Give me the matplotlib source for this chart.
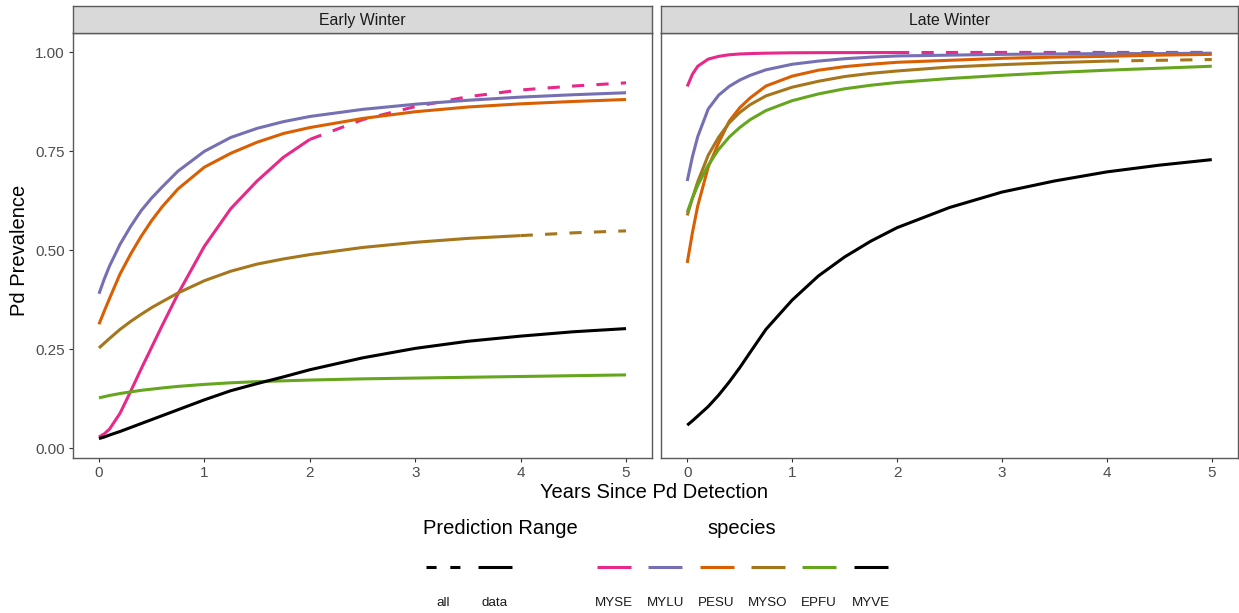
import matplotlib
matplotlib.use("Agg")
import matplotlib.pyplot as plt
from matplotlib.lines import Line2D

plt.rcParams['font.family'] = ['Liberation Sans', 'DejaVu Sans']

# ---------------- data ----------------
years = [0, 0.05, 0.1, 0.2, 0.3, 0.4, 0.5, 0.6, 0.75, 1, 1.25, 1.5, 1.75,
         2, 2.5, 3, 3.5, 4, 4.5, 5]
species = ["MYSE", "MYLU", "PESU", "MYSO", "EPFU", "MYVE"]
colors = ["#E7298A", "#7570B3", "#D95F02", "#A6761D", "#66A61E", "#000000"]
seasons = ["Early Winter", "Late Winter"]
# last year covered by data (beyond it the prediction is dashed)
data_limit = [2, 5, 5, 4, 5, 5]

early_MYSE = [0.028, 0.036, 0.048, 0.088, 0.143, 0.2, 0.255, 0.31, 0.39, 0.51, 0.605,
              0.675, 0.735, 0.78, 0.83, 0.863, 0.888, 0.905, 0.915, 0.923]
early_MYLU = [0.39, 0.427, 0.46, 0.515, 0.56, 0.60, 0.632, 0.66, 0.70, 0.75, 0.785,
              0.808, 0.825, 0.838, 0.856, 0.869, 0.879, 0.887, 0.893, 0.898]
early_PESU = [0.313, 0.346, 0.378, 0.44, 0.49, 0.535, 0.575, 0.61, 0.655, 0.71, 0.745,
              0.773, 0.795, 0.81, 0.833, 0.85, 0.862, 0.87, 0.876, 0.881]
early_MYSO = [0.253, 0.265, 0.277, 0.30, 0.32, 0.338, 0.355, 0.37, 0.392, 0.423, 0.447,
              0.465, 0.478, 0.489, 0.507, 0.52, 0.53, 0.537, 0.544, 0.549]
early_EPFU = [0.127, 0.13, 0.133, 0.138, 0.142, 0.146, 0.149, 0.152, 0.156, 0.161, 0.165,
              0.168, 0.17, 0.172, 0.175, 0.177, 0.179, 0.181, 0.183, 0.185]
early_MYVE = [0.024, 0.028, 0.033, 0.042, 0.052, 0.062, 0.072, 0.082, 0.097, 0.122, 0.145,
              0.163, 0.18, 0.198, 0.228, 0.252, 0.27, 0.283, 0.294, 0.302]

late_MYSE = [0.914, 0.945, 0.965, 0.983, 0.99, 0.994, 0.996, 0.997, 0.998, 0.999, 0.9993,
             0.9995, 0.9996, 0.9997, 0.9998, 0.9999, 0.9999, 0.9999, 0.9999, 0.9999]
late_MYLU = [0.675, 0.737, 0.787, 0.857, 0.892, 0.914, 0.93, 0.942, 0.956, 0.97, 0.978,
             0.984, 0.988, 0.991, 0.993, 0.995, 0.996, 0.997, 0.997, 0.998]
late_PESU = [0.468, 0.545, 0.612, 0.71, 0.772, 0.826, 0.86, 0.885, 0.915, 0.94, 0.955,
             0.964, 0.97, 0.975, 0.98, 0.985, 0.988, 0.99, 0.993, 0.995]
late_MYSO = [0.588, 0.632, 0.673, 0.74, 0.786, 0.822, 0.848, 0.868, 0.89, 0.912, 0.927,
             0.939, 0.947, 0.953, 0.963, 0.969, 0.974, 0.978, 0.98, 0.982]
late_EPFU = [0.596, 0.632, 0.664, 0.715, 0.755, 0.786, 0.81, 0.83, 0.853, 0.878, 0.895,
             0.908, 0.917, 0.924, 0.934, 0.942, 0.949, 0.955, 0.96, 0.965]
late_MYVE = [0.058, 0.069, 0.081, 0.105, 0.134, 0.167, 0.203, 0.242, 0.30, 0.374, 0.435,
             0.483, 0.523, 0.557, 0.608, 0.647, 0.675, 0.698, 0.715, 0.729]

panel_values = {
    "Early Winter": [early_MYSE, early_MYLU, early_PESU, early_MYSO, early_EPFU, early_MYVE],
    "Late Winter": [late_MYSE, late_MYLU, late_PESU, late_MYSO, late_EPFU, late_MYVE],
}
y_ticks = [0, 0.25, 0.5, 0.75, 1.0]
y_ticklabels = ["0.00", "0.25", "0.50", "0.75", "1.00"]
x_ticks = [0, 1, 2, 3, 4, 5]

# ---------------- figure ----------------
W, H = 1239, 613
fig = plt.figure(figsize=(W / 100, H / 100), dpi=100)


def px_axes(l, t, r, b, **kw):
    return fig.add_axes([l / W, 1 - b / H, (r - l) / W, (b - t) / H], **kw)


LW = 2.2
DASH = (4, 4)
TXT = "#4D4D4D"
BORDER = "#5a5a5a"
panels = [(72.6, 652.4), (661, 1238)]
for (l, r), season in zip(panels, seasons):
    ax = px_axes(l, 33, r, 458)
    for sp, col, lim, vals in zip(species, colors, data_limit, panel_values[season]):
        xs_s = [x for x in years if x <= lim]
        ys_s = [v for x, v in zip(years, vals) if x <= lim]
        ax.plot(xs_s, ys_s, color=col, lw=LW, solid_capstyle="butt",
                solid_joinstyle="round")
        if lim < years[-1]:
            xs_d = [x for x in years if x >= lim]
            ys_d = [v for x, v in zip(years, vals) if x >= lim]
            ax.plot(xs_d, ys_d, color=col, lw=LW, dashes=DASH, dash_capstyle="butt")
    ax.set_xlim(-0.25, 5.25)
    ax.set_ylim(-0.025, 1.049)
    ax.set_xticks(x_ticks)
    ax.set_xticklabels([str(t) for t in x_ticks])
    ax.set_yticks(y_ticks)
    if season == seasons[0]:
        ax.set_yticklabels(y_ticklabels)
        ax.tick_params(axis="y", length=3.2, width=0.8, color="#333333",
                       labelsize=11, labelcolor=TXT, pad=2.5)
    else:
        ax.tick_params(axis="y", length=0, labelleft=False)
    ax.tick_params(axis="x", length=3.2, width=0.8, color="#333333",
                   labelsize=11, labelcolor=TXT, pad=2.5)
    for s in ax.spines.values():
        s.set_color(BORDER)
        s.set_linewidth(1.0)
    # strip
    sax = px_axes(l, 5.5, r, 33)
    sax.set_facecolor("#D9D9D9")
    sax.set_xticks([])
    sax.set_yticks([])
    for s in sax.spines.values():
        s.set_color(BORDER)
        s.set_linewidth(1.0)
    sax.text(0.5, 0.47, season, ha="center", va="center", fontsize=11.4,
             color="#1A1A1A", transform=sax.transAxes)

fig.text(654 / W, 1 - 492 / H, "Years Since Pd Detection", ha="center", va="center",
         fontsize=14.5, color="black")
fig.text(20 / W, 1 - 250 / H, "Pd Prevalence", ha="center", va="center",
         rotation=90, fontsize=14.5, color="black")

# ---------------- legends (bottom, labels under keys) ----------------
lax = fig.add_axes([0, 0, 1, 1])
lax.set_xlim(0, W)
lax.set_ylim(H, 0)
lax.axis("off")

key_y, lab_y, title_y = 567, 603, 529
lax.text(500, title_y, "Prediction Range", ha="center", va="center", fontsize=14.5)
range_labels = ["all", "data"]
range_styles = [(3.3, 4.5), None]
for i, (lab, ds) in enumerate(zip(range_labels, range_styles)):
    x0 = 426 + i * 52
    kw = dict(color="black", lw=LW)
    if ds is not None:
        kw.update(dashes=ds, dash_capstyle="butt")
    lax.add_line(Line2D([x0, x0 + 34], [key_y, key_y], solid_capstyle="butt", **kw))
    lax.text(x0 + 17, lab_y, lab, ha="center", va="center", fontsize=9.6, color="#1A1A1A")

lax.text(742, title_y, "species", ha="center", va="center", fontsize=14.5)
for i, (sp, col) in enumerate(zip(species, colors)):
    x0 = 597 + i * 51.3
    lax.add_line(Line2D([x0, x0 + 34], [key_y, key_y], color=col, lw=LW,
                        solid_capstyle="butt"))
    lax.text(x0 + 17, lab_y, sp, ha="center", va="center", fontsize=9.6, color="#1A1A1A")

fig.savefig("out.png", dpi=100)
